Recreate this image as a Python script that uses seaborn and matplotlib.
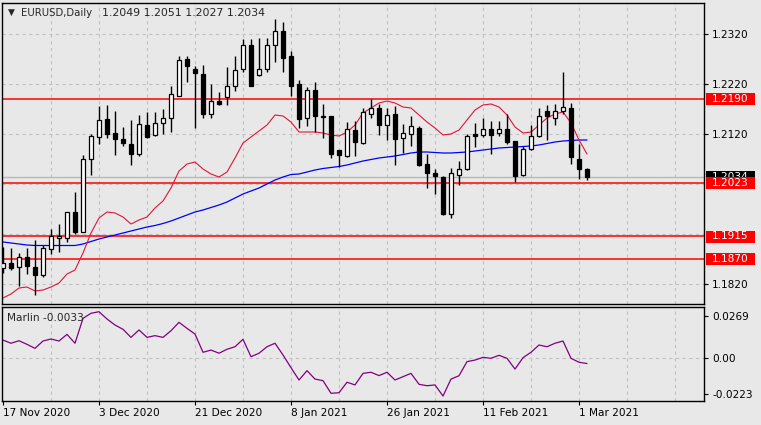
import pandas as pd
import seaborn as sns
import matplotlib.pyplot as plt
from matplotlib.patches import Rectangle
from matplotlib.transforms import blended_transform_factory

# Daily EURUSD candles, 17 Nov 2020 .. 2 Mar 2021 (bar index 0..73)
opens = [1.1852, 1.1861, 1.1853, 1.1873, 1.1853, 1.1838, 1.1890, 1.1911, 1.1911, 1.1963,
         1.1925, 1.2069, 1.2113, 1.2150, 1.2121, 1.2110, 1.2101, 1.2081, 1.2138, 1.2119,
         1.2143, 1.2151, 1.2196, 1.2269, 1.2250, 1.2241, 1.2160, 1.2186, 1.2193, 1.2216,
         1.2249, 1.2298, 1.2239, 1.2249, 1.2298, 1.2326, 1.2275, 1.2220, 1.2151, 1.2208,
         1.2156, 1.2155, 1.2087, 1.2075, 1.2128, 1.2103, 1.2161, 1.2171, 1.2139, 1.2160,
         1.2111, 1.2121, 1.2131, 1.2060, 1.2041, 1.2034, 1.1961, 1.2038, 1.2049, 1.2119,
         1.2118, 1.2129, 1.2123, 1.2129, 1.2106, 1.2038, 1.2089, 1.2116, 1.2165, 1.2151,
         1.2167, 1.2171, 1.2070, 1.2049]
highs = [1.1894, 1.1892, 1.1883, 1.1891, 1.1907, 1.1898, 1.1929, 1.1941, 1.1965, 1.2005,
         1.2078, 1.2121, 1.2176, 1.2178, 1.2167, 1.2133, 1.2148, 1.2158, 1.2165, 1.2165,
         1.2170, 1.2215, 1.2275, 1.2275, 1.2255, 1.2258, 1.2221, 1.2205, 1.2253, 1.2275,
         1.2309, 1.2310, 1.2311, 1.2311, 1.2349, 1.2345, 1.2287, 1.2228, 1.2213, 1.2225,
         1.2180, 1.2156, 1.2087, 1.2145, 1.2147, 1.2171, 1.2190, 1.2181, 1.2171, 1.2175,
         1.2141, 1.2155, 1.2135, 1.2081, 1.2050, 1.2036, 1.2051, 1.2066, 1.2121, 1.2143,
         1.2151, 1.2146, 1.2146, 1.2161, 1.2106, 1.2096, 1.2138, 1.2171, 1.2179, 1.2181,
         1.2245, 1.2183, 1.2101, 1.2051]
lows = [1.1842, 1.1848, 1.1815, 1.1841, 1.1798, 1.1833, 1.1881, 1.1885, 1.1905, 1.1921,
        1.1924, 1.2038, 1.2100, 1.2111, 1.2078, 1.2095, 1.2058, 1.2075, 1.2111, 1.2115,
        1.2121, 1.2125, 1.2195, 1.2225, 1.2131, 1.2152, 1.2152, 1.2177, 1.2179, 1.2206,
        1.2245, 1.2215, 1.2235, 1.2245, 1.2265, 1.2245, 1.2195, 1.2131, 1.2136, 1.2125,
        1.2111, 1.2071, 1.2053, 1.2073, 1.2076, 1.2101, 1.2151, 1.2118, 1.2108, 1.2057,
        1.2083, 1.2095, 1.2055, 1.2011, 1.2001, 1.1957, 1.1951, 1.2019, 1.2048, 1.2093,
        1.2113, 1.2080, 1.2115, 1.2101, 1.2025, 1.2035, 1.2087, 1.2113, 1.2108, 1.2138,
        1.2160, 1.2061, 1.2029, 1.2027]
closes = [1.1862, 1.1852, 1.1873, 1.1857, 1.1838, 1.1891, 1.1915, 1.1915, 1.1963, 1.1925,
          1.2069, 1.2116, 1.2148, 1.2121, 1.2109, 1.2103, 1.2081, 1.2139, 1.2113, 1.2143,
          1.2151, 1.2199, 1.2268, 1.2255, 1.2243, 1.2160, 1.2186, 1.2181, 1.2216, 1.2248,
          1.2297, 1.2216, 1.2249, 1.2297, 1.2326, 1.2271, 1.2216, 1.2149, 1.2207, 1.2155,
          1.2153, 1.2080, 1.2077, 1.2129, 1.2105, 1.2163, 1.2171, 1.2138, 1.2159, 1.2110,
          1.2121, 1.2136, 1.2058, 1.2043, 1.2035, 1.1961, 1.2043, 1.2049, 1.2116, 1.2116,
          1.2129, 1.2118, 1.2129, 1.2105, 1.2036, 1.2089, 1.2116, 1.2155, 1.2156, 1.2165,
          1.2173, 1.2073, 1.2049, 1.2034]

# moving averages as drawn on the chart (red = fast, blue = slow)
ma_fast = [1.1792, 1.1800, 1.1812, 1.1814, 1.1806, 1.1808, 1.1814, 1.1822, 1.1840, 1.1848,
           1.1882, 1.1922, 1.1952, 1.1964, 1.1962, 1.1954, 1.1940, 1.1948, 1.1954, 1.1972,
           1.1986, 1.2012, 1.2046, 1.2060, 1.2064, 1.2050, 1.2040, 1.2034, 1.2044, 1.2072,
           1.2102, 1.2114, 1.2126, 1.2138, 1.2158, 1.2156, 1.2144, 1.2124, 1.2124, 1.2124,
           1.2122, 1.2118, 1.2116, 1.2124, 1.2138, 1.2162, 1.2172, 1.2182, 1.2186, 1.2182,
           1.2174, 1.2172, 1.2158, 1.2144, 1.2132, 1.2118, 1.2120, 1.2128, 1.2148, 1.2168,
           1.2178, 1.2180, 1.2174, 1.2158, 1.2134, 1.2122, 1.2124, 1.2138, 1.2152, 1.2160,
           1.2164, 1.2142, 1.2108, 1.2080]
ma_slow = [1.1904, 1.1902, 1.1900, 1.1898, 1.1897, 1.1897, 1.1897, 1.1897, 1.1897, 1.1897,
           1.1900, 1.1905, 1.1910, 1.1914, 1.1918, 1.1922, 1.1926, 1.1930, 1.1934, 1.1937,
           1.1941, 1.1946, 1.1952, 1.1958, 1.1964, 1.1968, 1.1973, 1.1978, 1.1984, 1.1992,
           1.2000, 1.2006, 1.2012, 1.2020, 1.2028, 1.2034, 1.2039, 1.2040, 1.2044, 1.2048,
           1.2051, 1.2053, 1.2055, 1.2058, 1.2062, 1.2066, 1.2069, 1.2072, 1.2074, 1.2076,
           1.2079, 1.2082, 1.2084, 1.2084, 1.2083, 1.2082, 1.2082, 1.2083, 1.2084, 1.2086,
           1.2088, 1.2090, 1.2092, 1.2093, 1.2094, 1.2095, 1.2096, 1.2098, 1.2101, 1.2104,
           1.2106, 1.2107, 1.2108, 1.2108]

marlin = [0.0115, 0.0095, 0.0111, 0.0088, 0.0063, 0.0109, 0.0122, 0.0109, 0.0151, 0.0095,
          0.0252, 0.0284, 0.0294, 0.0248, 0.0210, 0.0183, 0.0132, 0.0179, 0.0132, 0.0143,
          0.0132, 0.0174, 0.0227, 0.0189, 0.0153, 0.0038, 0.0052, 0.0032, 0.0057, 0.0073,
          0.0120, 0.0010, 0.0032, 0.0073, 0.0095, 0.0021, -0.0059, -0.0137, -0.0078, -0.0131,
          -0.0141, -0.0221, -0.0217, -0.0151, -0.0168, -0.0095, -0.0088, -0.0109, -0.0088, -0.0137,
          -0.0116, -0.0095, -0.0164, -0.0173, -0.0168, -0.0238, -0.0131, -0.0110, -0.0021, -0.0011,
          0.0006, 0.0000, 0.0019, 0.0000, -0.0068, 0.0004, 0.0038, 0.0084, 0.0073, 0.0095,
          0.0109, 0.0000, -0.0025, -0.0033]

levels = [1.2190, 1.2023, 1.1915, 1.1870]
bid = 1.2034
price_ticks = [1.2320, 1.2220, 1.2120, 1.1820]
grid_prices = [1.2320, 1.2220, 1.2120, 1.2020, 1.1920, 1.1820]
date_pos = [0, 12, 24, 36, 48, 60, 72]
date_labels = ["17 Nov 2020", "3 Dec 2020", "21 Dec 2020", "8 Jan 2021",
               "26 Jan 2021", "11 Feb 2021", "1 Mar 2021"]
marlin_ticks = [0.0269, 0.0, -0.0223]
marlin_tick_labels = ["0.0269", "0.00", "-0.0223"]

BG = "#e8e8e8"
GRID = "#c2c2c2"
FS = 7.6
W, H = 761, 425


def price_box(ax, y, text, face, z):
    """Coloured price tag on the right axis; z sets its stacking order."""
    trans = blended_transform_factory(ax.transAxes, ax.transData)
    ax.add_patch(Rectangle((1.0028, y - 0.0012), 0.0698, 0.0024, transform=trans,
                           facecolor=face, edgecolor="none", clip_on=False, zorder=z))
    ax.text(1.0114, y, text, transform=trans, color="white", fontsize=FS,
            va="center", ha="left", clip_on=False, zorder=z + 0.5)


def main():
    sns.set_style("ticks")
    plt.rcParams["font.family"] = ["DejaVu Sans"]

    df = pd.DataFrame({"bar": range(len(opens)), "open": opens, "high": highs,
                       "low": lows, "close": closes, "ma_fast": ma_fast,
                       "ma_slow": ma_slow, "marlin": marlin})

    fig = plt.figure(figsize=(W / 100, H / 100), dpi=100, facecolor=BG)
    ax = fig.add_axes([2 / W, 1 - 304 / H, 702 / W, 301 / H])
    axm = fig.add_axes([2 / W, 1 - 401 / H, 702 / W, 94 / H])

    for a in (ax, axm):
        a.set_facecolor(BG)
        a.set_xlim(-0.125, 87.625)
        for s in a.spines.values():
            s.set_color("black")
            s.set_linewidth(1.0)
        for gx in range(6, 88, 6):
            a.axvline(gx, color=GRID, lw=0.8, ls=(0, (3, 3)), zorder=0)

    # main price panel
    ax.set_ylim(1.1780, 1.2382)
    for gy in grid_prices:
        ax.axhline(gy, color=GRID, lw=0.8, ls=(0, (3, 3)), zorder=0)
    ax.axhline(bid, color="#b8b8b8", lw=1.0, zorder=1)
    for lv in levels:
        ax.axhline(lv, color="#ff0000", lw=1.1, zorder=1.5)

    sns.lineplot(data=df, x="bar", y="ma_slow", ax=ax, color="#0000ff", lw=0.9, zorder=2)
    sns.lineplot(data=df, x="bar", y="ma_fast", ax=ax, color="#e0143c", lw=0.8, zorder=2)

    up = df["close"] >= df["open"]
    body_lo = df[["open", "close"]].min(axis=1)
    body_h = (df["close"] - df["open"]).abs().clip(lower=0.00006)
    ax.vlines(df["bar"], df["low"], df["high"], color="black", lw=1.0, zorder=3)
    ax.bar(df["bar"], body_h, bottom=body_lo, width=0.62,
           color=["white" if u else "black" for u in up],
           edgecolor="black", linewidth=0.9, zorder=4)

    ax.yaxis.tick_right()
    ax.set_yticks(price_ticks)
    ax.set_yticklabels([f"{p:.4f}" for p in price_ticks])
    ax.tick_params(axis="y", length=3, width=0.8, pad=3, labelsize=FS, colors="black")
    ax.tick_params(axis="x", length=0, labelbottom=False)
    ax.set_xlabel("")
    ax.set_ylabel("")

    # bid tag sits underneath the 1.2023 tag, as in the terminal
    price_box(ax, bid, f"{bid:.4f}", "black", 6)
    for i, lv in enumerate(levels):
        price_box(ax, lv, f"{lv:.4f}", "#ff0000", 8 + i)

    # Marlin oscillator panel
    axm.set_ylim(-0.02694, 0.03237)
    axm.axhline(0, color=GRID, lw=0.8, ls=(0, (3, 3)), zorder=0)
    sns.lineplot(data=df, x="bar", y="marlin", ax=axm, color="#800080", lw=0.9)
    axm.yaxis.tick_right()
    axm.set_yticks(marlin_ticks)
    axm.set_yticklabels(marlin_tick_labels)
    axm.tick_params(axis="y", length=3, width=0.8, pad=3, labelsize=FS, colors="black")
    axm.set_xticks(date_pos)
    axm.set_xticklabels(date_labels)
    axm.tick_params(axis="x", length=3, width=0.8, pad=2, labelsize=FS, colors="black")
    for lbl in axm.get_xticklabels():
        lbl.set_ha("left")
    axm.set_xlabel("")
    axm.set_ylabel("")
    axm.text(5 / 702, 1 - 11 / 94, "Marlin -0.0033", transform=axm.transAxes,
             fontsize=FS, va="center", ha="left")

    # header
    fig.text(8 / W, 1 - 12.5 / H, "\u25bc", fontsize=6.5, va="center", ha="left")
    fig.text(21 / W, 1 - 12.5 / H, "EURUSD,Daily", fontsize=7.3, va="center", ha="left")
    fig.text(102 / W, 1 - 12.5 / H, "1.2049 1.2051 1.2027 1.2034", fontsize=7.9,
             va="center", ha="left")

    fig.savefig("out.png", dpi=100, facecolor=BG)


if __name__ == "__main__":
    main()
